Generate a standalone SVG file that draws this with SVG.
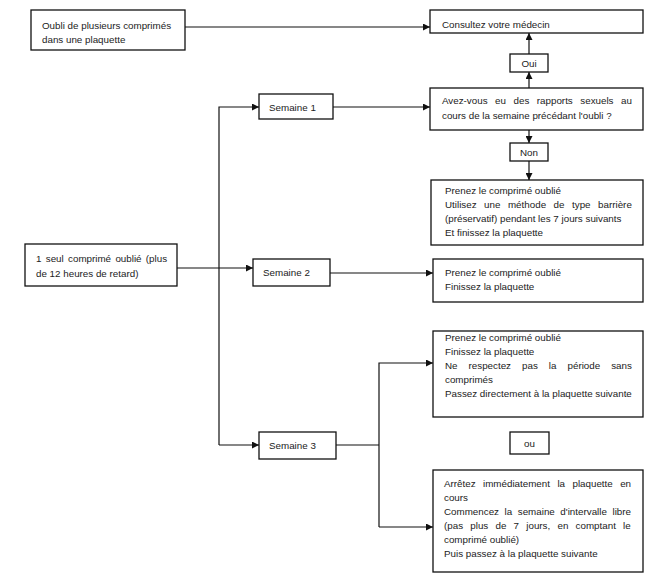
<svg xmlns="http://www.w3.org/2000/svg" width="657" height="582" viewBox="0 0 657 582">
<defs>
<style>
.box{fill:#fff;stroke:#111;stroke-width:1.3}
text{font-family:"Liberation Sans",Arial,sans-serif;font-size:9.8px;fill:#222}
.c{text-anchor:middle}
.ln{fill:none;stroke:#111;stroke-width:1.2}
</style>
<marker id="ah" viewBox="0 0 10 10" refX="10" refY="5" markerWidth="7" markerHeight="7" markerUnits="userSpaceOnUse" orient="auto">
<path d="M0,0 L10,5 L0,10 z" fill="#111"/>
</marker>
</defs>
<rect width="657" height="582" fill="#fff"/>
<g id="connectors">
<path class="ln" d="M185,27 H430" marker-end="url(#ah)"/>
<path class="ln" d="M529,88 V72" marker-end="url(#ah)"/>
<path class="ln" d="M529,54 V33" marker-end="url(#ah)"/>
<path class="ln" d="M529,130 V143" marker-end="url(#ah)"/>
<path class="ln" d="M529,161 V180" marker-end="url(#ah)"/>
<path class="ln" d="M177,268 H253" marker-end="url(#ah)"/>
<path class="ln" d="M219,445 V107 H259" marker-end="url(#ah)"/>
<path class="ln" d="M219,445 H259" marker-end="url(#ah)"/>
<path class="ln" d="M333,107 H430" marker-end="url(#ah)"/>
<path class="ln" d="M330,273 H433" marker-end="url(#ah)"/>
<path class="ln" d="M336,445 H379"/>
<path class="ln" d="M379,527 V363 H433" marker-end="url(#ah)"/>
<path class="ln" d="M379,527 H433" marker-end="url(#ah)"/>
</g>
<g id="n-plusieurs">
<rect class="box" x="31" y="10" width="154" height="40"/>
<text x="42" y="28.5">Oubli de plusieurs comprimés</text>
<text x="42" y="42.5">dans une plaquette</text>
</g>
<g id="n-medecin">
<rect class="box" x="430" y="10" width="213" height="23"/>
<text x="442" y="28">Consultez votre médecin</text>
</g>
<g id="n-oui">
<rect class="box" x="510" y="54" width="38" height="18"/>
<text class="c" x="529" y="66.5">Oui</text>
</g>
<g id="n-question">
<rect class="box" x="430" y="88" width="213" height="42"/>
<text x="442" y="104" word-spacing="4.8">Avez-vous eu des rapports sexuels au</text>
<text x="442" y="119">cours de la semaine précédant l'oubli ?</text>
</g>
<g id="n-non">
<rect class="box" x="510" y="143" width="38" height="18"/>
<text class="c" x="529" y="155.5">Non</text>
</g>
<g id="n-sem1-action">
<rect class="box" x="431" y="180" width="212" height="65"/>
<text x="445" y="194">Prenez le comprimé oublié</text>
<text x="445" y="208" word-spacing="4.8">Utilisez une méthode de type barrière</text>
<text x="445" y="222">(préservatif) pendant les 7 jours suivants</text>
<text x="445" y="236">Et finissez la plaquette</text>
</g>
<g id="n-semaine1">
<rect class="box" x="259" y="94" width="74" height="25"/>
<text x="269" y="110.5">Semaine 1</text>
</g>
<g id="n-seul">
<rect class="box" x="25" y="244" width="152" height="42"/>
<text x="36" y="261.5" word-spacing="1.6">1 seul comprimé oublié (plus</text>
<text x="36" y="276.5">de 12 heures de retard)</text>
</g>
<g id="n-semaine2">
<rect class="box" x="253" y="259" width="77" height="27"/>
<text x="263" y="276">Semaine 2</text>
</g>
<g id="n-sem2-action">
<rect class="box" x="433" y="259" width="210" height="43"/>
<text x="445" y="276">Prenez le comprimé oublié</text>
<text x="445" y="290">Finissez la plaquette</text>
</g>
<g id="n-sem3-a">
<rect class="box" x="433" y="331" width="210" height="86"/>
<text x="445" y="341">Prenez le comprimé oublié</text>
<text x="445" y="355">Finissez la plaquette</text>
<text x="445" y="369" word-spacing="8.3">Ne respectez pas la période sans</text>
<text x="445" y="383">comprimés</text>
<text x="445" y="397">Passez directement à la plaquette suivante</text>
</g>
<g id="n-semaine3">
<rect class="box" x="259" y="432" width="77" height="27"/>
<text x="269" y="449">Semaine 3</text>
</g>
<g id="n-ou">
<rect class="box" x="510" y="432" width="39" height="22"/>
<text class="c" x="529.5" y="446.5">ou</text>
</g>
<g id="n-sem3-b">
<rect class="box" x="433" y="470" width="210" height="102"/>
<text x="444" y="487" word-spacing="4.7">Arrêtez immédiatement la plaquette en</text>
<text x="444" y="501">cours</text>
<text x="444" y="515" word-spacing="2.85">Commencez la semaine d'intervalle libre</text>
<text x="444" y="529" word-spacing="4.5">(pas plus de 7 jours, en comptant le</text>
<text x="444" y="543">comprimé oublié)</text>
<text x="444" y="557">Puis passez à la plaquette suivante</text>
</g>
</svg>
